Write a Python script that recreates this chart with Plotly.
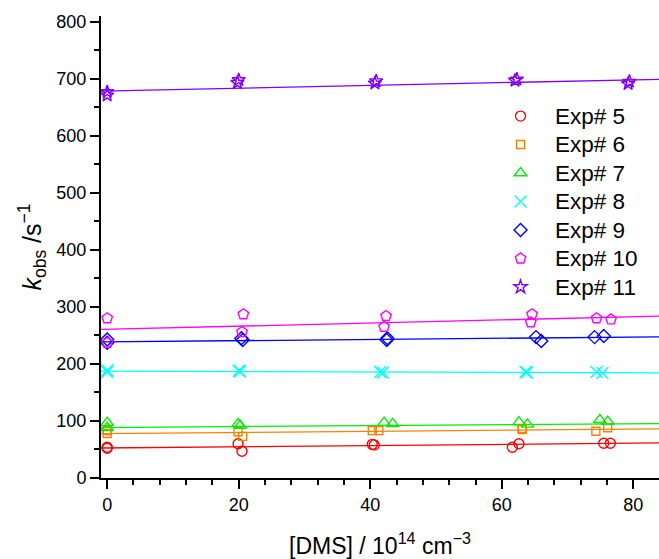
import plotly.graph_objects as go

# ---- data ----
names = ["Exp# 5", "Exp# 6", "Exp# 7", "Exp# 8", "Exp# 9", "Exp# 10", "Exp# 11"]

x5 = [0, 0, 19.9, 20.5, 40.3, 40.6, 61.6, 62.6, 75.5, 76.5]
y5 = [54, 52, 60, 47, 59, 58, 54, 60, 61, 61]

x6 = [0, 0, 19.9, 20.6, 40.3, 41.3, 63.1, 63.1, 74.3, 76.1]
y6 = [83, 78, 81, 73, 83, 83, 87, 85, 82, 88]

x7 = [0, 0, 19.9, 20.2, 42.1, 43.4, 62.6, 63.9, 74.9, 76.1]
y7 = [97, 88, 95, 92, 97, 95, 98, 94, 102, 99]

x8 = [0, 0, 20.0, 20.2, 41.5, 41.9, 63.6, 63.8, 74.4, 75.3]
y8 = [189, 186, 188, 187, 186, 185, 186, 185, 186, 184]

x9 = [0, 0, 20.6, 20.4, 42.6, 42.5, 65.2, 66.0, 74.1, 75.5]
y9 = [243, 237, 242, 245, 245, 242, 247, 240, 247, 249]

x10 = [0, 0, 20.7, 20.5, 42.4, 42.1, 64.6, 64.4, 74.4, 76.6]
y10 = [280, 237, 287, 256, 284, 265, 287, 273, 280, 278]

x11 = [0, 0, 19.8, 20.0, 40.7, 40.9, 62.0, 62.3, 79.2, 79.4]
y11 = [671, 677, 693, 698, 692, 696, 697, 699, 691, 695]

# linear fit parameters (intercept, slope)
intercepts = [52.7, 78.0, 88.5, 187.2, 238.7, 260.7, 678.6]
slopes = [0.104, 0.095, 0.083, -0.035, 0.104, 0.275, 0.243]

xs = [x5, x6, x7, x8, x9, x10, x11]
ys = [y5, y6, y7, y8, y9, y10, y11]

colors = ["#ff0000", "#ff8000", "#00ee00", "#00ffff", "#0000ff", "#ff00ff", "#8000ff"]
symbols = ["circle-open", "square-open", "triangle-up-open", "x-thin-open",
           "diamond-open", "pentagon-open", "star-open"]
sizes = [10, 8, 11, 12, 10, 11, 10]

x_range = [-0.94, 83.9]
y_range = [0, 810]

FONT = "Liberation Sans, Arial, sans-serif"

fig = go.Figure()

for i in range(len(names)):
    xl = x_range
    yl = [intercepts[i] + slopes[i] * xv for xv in xl]
    fig.add_trace(go.Scatter(x=xl, y=yl, mode="lines", showlegend=False,
                             line=dict(color=colors[i], width=1.3),
                             hoverinfo="skip"))

for i in range(len(names)):
    fig.add_trace(go.Scatter(
        x=xs[i], y=ys[i], mode="markers",
        name='<span style="font-size:22.5px">' + names[i] + '</span>',
        marker=dict(symbol=symbols[i], size=sizes[i], color=colors[i],
                    line=dict(color=colors[i], width=1.4))))

fig.update_layout(
    width=659, height=559,
    margin=dict(l=101, r=0, t=16, b=81),
    paper_bgcolor="white", plot_bgcolor="white",
    font=dict(family=FONT, color="black", size=18),
    legend=dict(x=0.69, y=0.825, xanchor="left", yanchor="top",
                bgcolor="rgba(0,0,0,0)", borderwidth=0,
                font=dict(size=19.6, family=FONT),
                itemwidth=59, tracegroupgap=0),
)

fig.update_xaxes(
    range=x_range, showgrid=False, zeroline=False,
    showline=True, linecolor="black", linewidth=2,
    ticks="outside", ticklen=9, tickwidth=1.5, tickcolor="black",
    tick0=0, dtick=20, tickfont=dict(size=18, family=FONT),
    minor=dict(ticks="outside", ticklen=5, tickwidth=1.5, dtick=4, tickcolor="black"),
    title=dict(text="[DMS] / 10<sup>14</sup> cm<sup>\u22123</sup>",
               font=dict(size=23, family=FONT), standoff=26),
)

fig.update_yaxes(
    range=y_range, showgrid=False, zeroline=False,
    showline=True, linecolor="black", linewidth=2,
    ticks="outside", ticklen=9, tickwidth=1.5, tickcolor="black",
    tick0=0, dtick=100, tickfont=dict(size=18, family=FONT),
    minor=dict(ticks="outside", ticklen=5, tickwidth=1.5, dtick=50, tickcolor="black"),
    title=dict(text="<i>k</i><sub>obs</sub> /s<sup>\u22121</sup>",
               font=dict(size=25, family=FONT), standoff=8),
)

fig.write_html("out.html")
